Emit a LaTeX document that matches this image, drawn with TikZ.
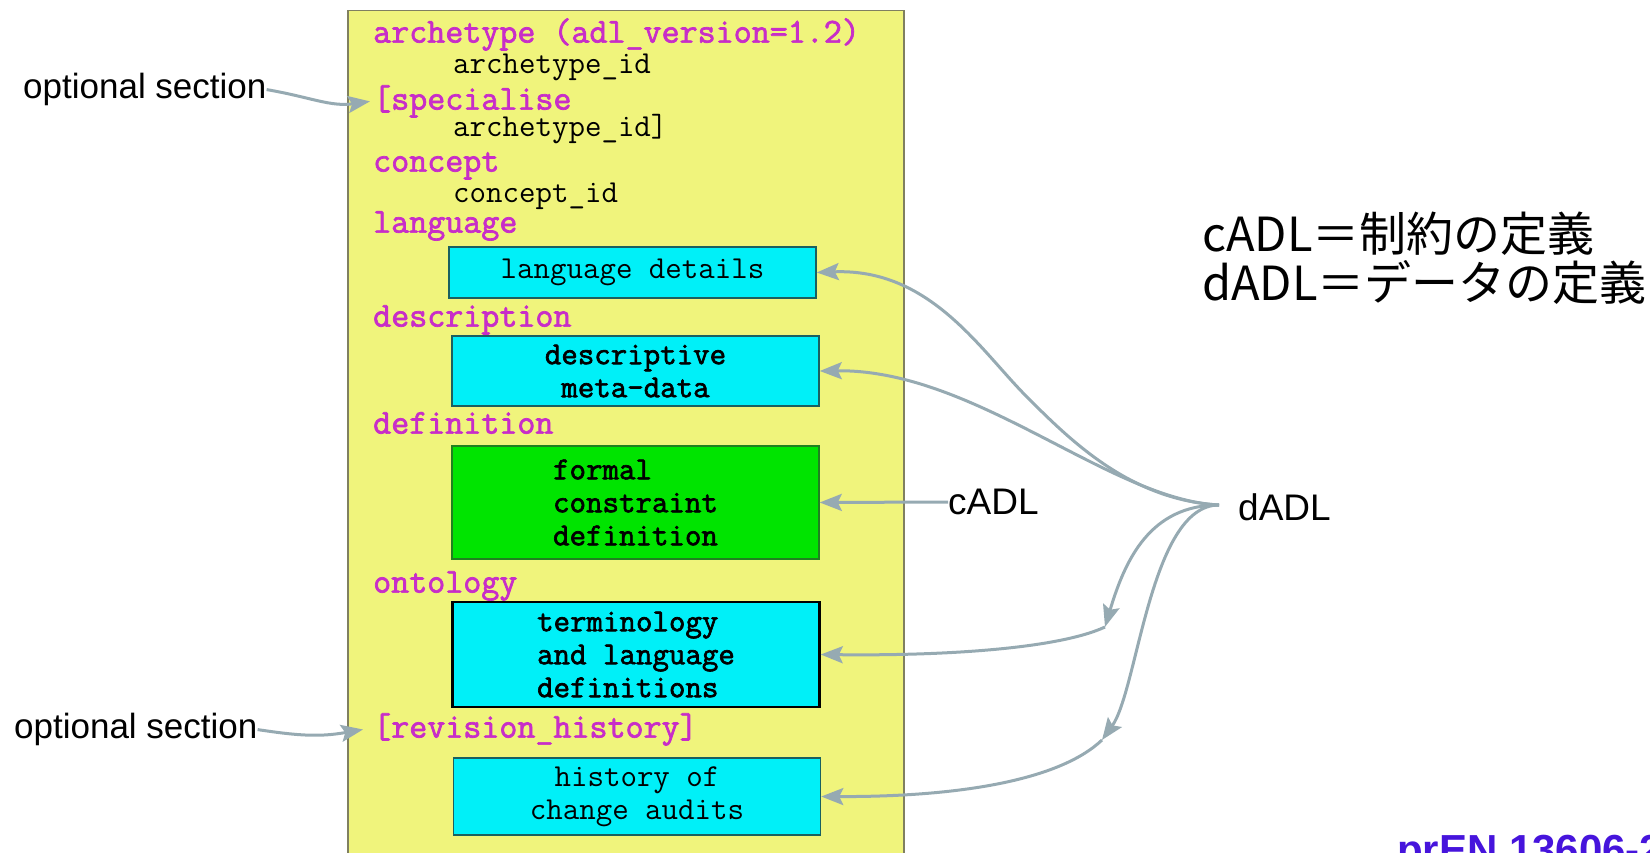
\documentclass[tikz,border=0pt]{standalone}
\usepackage{fontspec}
\setmainfont{Liberation Sans}
\newfontfamily\monofont{Latin Modern Mono}
\newfontfamily\monobold[FakeBold=2]{Latin Modern Mono}
\newfontfamily\jpfont{Noto Sans CJK JP}
\usetikzlibrary{arrows.meta}
\definecolor{panelfill}{RGB}{240,244,124}
\definecolor{panelline}{RGB}{128,128,96}
\definecolor{cyanfill}{RGB}{0,240,248}
\definecolor{cyanline}{RGB}{26,96,96}
\definecolor{greenfill}{RGB}{0,228,0}
\definecolor{greenline}{RGB}{32,128,32}
\definecolor{kwmag}{RGB}{200,45,200}
\definecolor{arrgray}{RGB}{150,170,178}
\definecolor{prencol}{RGB}{70,20,220}
\tikzset{
  kw/.style={anchor=mid west, inner sep=0pt, text=kwmag, font=\monobold\fontsize{35}{38}\selectfont},
  val/.style={anchor=mid west, inner sep=0pt, font=\monofont\fontsize{32}{33}\selectfont},
  secbox/.style={draw=cyanline, line width=1.5pt, fill=cyanfill, minimum width=367pt, inner sep=0pt, align=center, font=\monofont\fontsize{32}{33}\selectfont},
  boldbox/.style={secbox, font=\monobold\fontsize{32}{33}\selectfont},
  conn/.style={draw=arrgray, line width=3pt, -{Stealth[length=22pt,width=17pt,inset=4pt]}},
  sidelbl/.style={anchor=mid west, inner sep=0pt, font=\fontsize{35}{40}\selectfont},
  adllbl/.style={anchor=west, inner sep=0pt, font=\fontsize{37}{42}\selectfont},
  jplbl/.style={anchor=base west, inner sep=0pt, font=\jpfont\fontsize{47}{52}\selectfont}
}
\begin{document}
\begin{tikzpicture}[x=1pt,y=-1pt]
\useasboundingbox (0,0) rectangle (1650,853);
\clip (0,0) rectangle (1650,853);
% panel
\node[draw=panelline, line width=1.5pt, fill=panelfill, minimum width=556pt, minimum height=860pt, inner sep=0pt, anchor=north west] (panel) at (347,10) {};
% keywords and values
\node[kw] (arch) at (373,40) {archetype (adl\_version=1.2)};
\node[val] (archid) at (453,71) {archetype\_id};
\node[kw] (spec) at (373,107) {[specialise};
\node[val] (specid) at (453,134) {archetype\_id]};
\node[kw] (concept) at (373,169) {concept};
\node[val] (conceptid) at (453,200) {concept\_id};
\node[kw] (language) at (373,230) {language};
\node[kw] (description) at (373,324) {description};
\node[kw] (definition) at (373,431) {definition};
\node[kw] (ontology) at (373,590) {ontology};
\node[kw] (rev) at (373,735) {[revision\_history]};
% section boxes
\node[secbox, minimum height=51pt] (lang) at (632.5,272.5) {language details};
\node[boldbox, minimum height=70pt] (desc) at (635.5,371) {descriptive\\meta-data};
\node[boldbox, draw=greenline, fill=greenfill, minimum height=113pt, align=left] (formal) at (635.5,502.5) {formal\\constraint\\definition};
\node[boldbox, draw=black, line width=2.5pt, minimum height=105pt, align=left] (term) at (636,654.5) {terminology\\and language\\definitions};
\node[secbox, minimum height=77pt] (hist) at (637,796.5) {history of\\change audits};
% side labels
\node[sidelbl] (opt1) at (23,96) {optional section};
\node[sidelbl] (opt2) at (14,736) {optional section};
\node[adllbl] (cadl) at (948,502) {cADL};
\node[adllbl] (dadl) at (1238,507) {dADL};
\node[jplbl] (jp1) at (1202,252) {cADL＝制約の定義};
\node[jplbl] (jp2) at (1202,301) {dADL＝データの定義};
\node[anchor=base west, inner sep=0pt, text=prencol, font=\bfseries\fontsize{42}{50}\selectfont] (pren) at (1397,864) {prEN 13606-2};
% connectors
\draw[conn] (opt1.east) .. controls (310,97) and (330,107) .. ([xshift=-3pt]spec.west);
\draw[conn] (opt2.east) .. controls (300,736) and (320,737) .. ([xshift=-10pt]rev.west);
\draw[conn] (cadl.west) -- (formal.east);
\coordinate (conv) at (1219,505);
\coordinate (m1) at (1105,627);
\coordinate (m2) at (1102,740);
\draw[conn] (conv) .. controls (1130,500) and (1070,440) .. (1027,397)
                   .. controls (980,350) and (930,268) .. (lang.east);
\draw[conn] (conv) .. controls (1110,500) and (975,369) .. (desc.east);
\draw[conn] (conv) .. controls (1150,505) and (1125,560) .. (m1);
\draw[conn] (m1) .. controls (1060,648) and (950,656) .. (term.east);
\draw[conn] (conv) .. controls (1150,505) and (1138,690) .. (m2);
\draw[conn] (m2) .. controls (1060,780) and (960,797) .. (hist.east);
\end{tikzpicture}
\end{document}
